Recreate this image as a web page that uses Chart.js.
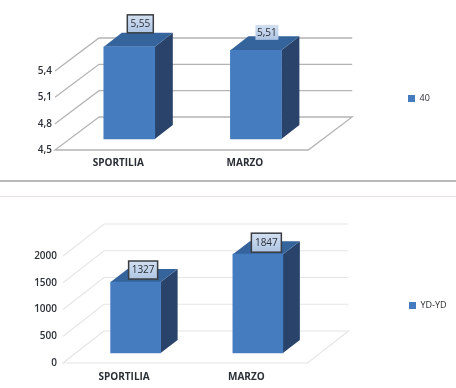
<!DOCTYPE html>
<html>
<head>
<meta charset="utf-8">
<script src="https://cdn.jsdelivr.net/npm/chart.js@4"></script>
<style>
  html, body { margin: 0; padding: 0; background: #fff; }
  body { position: relative; width: 456px; height: 388px; overflow: hidden; }
  canvas { position: absolute; left: 0; }
  #chart40 { top: 0; }
  #chartYoyo { top: 197px; }
  .rule { position: absolute; left: 0; width: 456px; }
  #ruleThick { top: 180px; height: 2px; background: #b9b9b9; }
  #ruleThin { top: 196px; height: 1px; background: #e6e2e2; }
</style>
</head>
<body>
<canvas id="chart40" width="456" height="180"></canvas>
<div class="rule" id="ruleThick"></div>
<div class="rule" id="ruleThin"></div>
<canvas id="chartYoyo" width="456" height="191"></canvas>
<script>
const categories = ['SPORTILIA', 'MARZO'];
const values40 = [5.55, 5.51];
const valuesYoyo = [1327, 1847];
const ticks40 = [4.5, 4.8, 5.1, 5.4];
const ticksYoyo = [0, 500, 1000, 1500, 2000];

const FONT = '"Open Sans", sans-serif';
const TEXT = '#2b2f36';
const BLUE = '#457cc0';

const comma = (v, digits) => v.toFixed(digits).replace('.', ',');

// fake 3d: floor and back wall behind the bars, side and top faces on each bar
const depth3d = {
  id: 'depth3d',
  beforeDatasetsDraw(chart, args, opts) {
    const { ctx, chartArea } = chart;
    const y = chart.scales.y;
    ctx.save();
    ctx.lineWidth = opts.gridWidth;
    ctx.strokeStyle = opts.gridColor;
    y.ticks.forEach(t => {
      const py = y.getPixelForValue(t.value);
      if (t.value === y.min) return;
      ctx.beginPath();
      ctx.moveTo(chartArea.left, py);
      ctx.lineTo(chartArea.left + opts.wallX, py - opts.wallY);
      ctx.lineTo(chartArea.right + opts.wallX, py - opts.wallY);
      ctx.stroke();
    });
    // floor
    const b = chartArea.bottom;
    ctx.beginPath();
    ctx.moveTo(chartArea.left + opts.wallX, b - opts.wallY);
    ctx.lineTo(chartArea.left, b);
    ctx.lineTo(chartArea.right, b);
    ctx.lineTo(chartArea.right + opts.wallX, b - opts.wallY);
    ctx.lineTo(chartArea.left + opts.wallX, b - opts.wallY);
    ctx.stroke();
    ctx.restore();
  },
  beforeDatasetDraw(chart, args, opts) {
    const { ctx } = chart;
    ctx.save();
    ctx.translate(opts.barX, -opts.barY);
    chart.getDatasetMeta(args.index).data.forEach(bar => {
      const l = bar.x - bar.width / 2;
      const r = bar.x + bar.width / 2;
      ctx.fillStyle = '#29436a';
      ctx.beginPath();
      ctx.moveTo(r, bar.y);
      ctx.lineTo(r + opts.sideX, bar.y - opts.sideY);
      ctx.lineTo(r + opts.sideX, bar.base - opts.sideY);
      ctx.lineTo(r, bar.base);
      ctx.closePath();
      ctx.fill();
      ctx.fillStyle = '#35639b';
      ctx.beginPath();
      ctx.moveTo(l, bar.y);
      ctx.lineTo(l + opts.sideX, bar.y - opts.sideY);
      ctx.lineTo(r + opts.sideX, bar.y - opts.sideY);
      ctx.lineTo(r, bar.y);
      ctx.closePath();
      ctx.fill();
    });
  },
  afterDatasetDraw(chart) {
    chart.ctx.restore();
  },
  // value boxes above each bar
  afterDatasetsDraw(chart, args, opts) {
    const { ctx } = chart;
    const values = chart.data.datasets[0].data;
    chart.getDatasetMeta(0).data.forEach((bar, i) => {
      const cx = bar.x + opts.barX + opts.boxX[i];
      const cy = bar.y - opts.barY + opts.boxY[i];
      const w = opts.boxW[i];
      const h = opts.boxH[i];
      const g = ctx.createLinearGradient(0, cy - h / 2, 0, cy + h / 2);
      g.addColorStop(0, '#d3e0f1');
      g.addColorStop(1, '#aec5e4');
      ctx.fillStyle = g;
      ctx.fillRect(cx - w / 2, cy - h / 2, w, h);
      if (opts.boxBorder[i]) {
        ctx.strokeStyle = '#3a3d42';
        ctx.lineWidth = 1.5;
        ctx.strokeRect(cx - w / 2, cy - h / 2, w, h);
      }
      ctx.fillStyle = TEXT;
      ctx.font = '10px ' + FONT;
      ctx.textAlign = 'center';
      ctx.textBaseline = 'middle';
      ctx.fillText(opts.format(values[i]), cx, cy + 0.5);
    });
  }
};

// the legend sits far off to the right of the plot
const legendSpot = {
  id: 'legendSpot',
  afterLayout(chart, args, opts) {
    const l = chart.legend;
    const w = l.width;
    const h = l.height;
    l.left = opts.x;
    l.right = opts.x + w;
    l.top = opts.y;
    l.bottom = opts.y + h;
  }
};

function createChart(id, label, values, tickValues, o) {
  return new Chart(document.getElementById(id), {
    type: 'bar',
    data: {
      labels: categories,
      datasets: [{
        label: label,
        data: values,
        base: tickValues[0],
        backgroundColor: BLUE,
        barThickness: o.barWidth,
        clip: false
      }]
    },
    options: {
      responsive: false,
      animation: false,
      layout: { padding: { top: o.top, right: o.right, left: 0, bottom: 0 } },
      scales: {
        x: {
          grid: { display: false, drawTicks: false },
          border: { display: false },
          afterFit: s => { s.height = o.xHeight; },
          ticks: {
            color: TEXT,
            padding: o.xPad,
            maxRotation: 0,
            font: { family: FONT, size: 10, weight: '700' }
          }
        },
        y: {
          min: tickValues[0],
          max: tickValues[tickValues.length - 1],
          grid: { display: false, drawTicks: false },
          border: { display: false },
          afterBuildTicks: s => { s.ticks = tickValues.map(v => ({ value: v })); },
          afterFit: s => { s.width = o.yWidth; },
          ticks: {
            color: TEXT,
            padding: o.yPad,
            font: { family: FONT, size: 10, weight: '600' },
            callback: o.tickFormat
          }
        }
      },
      plugins: {
        tooltip: { enabled: false },
        legend: {
          position: 'right',
          align: 'start',
          labels: {
            boxWidth: 7,
            boxHeight: 7,
            padding: 0,
            color: TEXT,
            font: { family: FONT, size: 9 }
          }
        },
        legendSpot: o.legend,
        depth3d: o.depth
      }
    },
    plugins: [depth3d, legendSpot]
  });
}

createChart('chart40', '40', values40, ticks40, {
  barWidth: 51, top: 71, right: 116, xHeight: 30, xPad: 7, yWidth: 55, yPad: 3,
  tickFormat: v => comma(v, 1),
  legend: { x: 408, y: 94 },
  depth: {
    wallX: 44, wallY: 33, barX: 11, barY: 11, sideX: 18, sideY: 14,
    gridColor: '#b4b4b4', gridWidth: 1.3,
    boxX: [11, 11], boxY: [-23, -18], boxW: [26, 23], boxH: [18, 15], boxBorder: [true, false],
    format: v => comma(v, 2)
  }
});

createChart('chartYoyo', 'YD-YD', valuesYoyo, ticksYoyo, {
  barWidth: 50, top: 59, right: 101, xHeight: 25, xPad: 8, yWidth: 63, yPad: 6,
  tickFormat: v => String(v),
  legend: { x: 409, y: 104 },
  depth: {
    wallX: 41, wallY: 32, barX: 11.5, barY: 10, sideX: 17, sideY: 13,
    gridColor: '#e6e6e6', gridWidth: 1.2,
    boxX: [7.5, 8.5], boxY: [-12, -11.5], boxW: [29, 30], boxH: [18, 19], boxBorder: [true, true],
    format: v => String(v)
  }
});
</script>
</body>
</html>
